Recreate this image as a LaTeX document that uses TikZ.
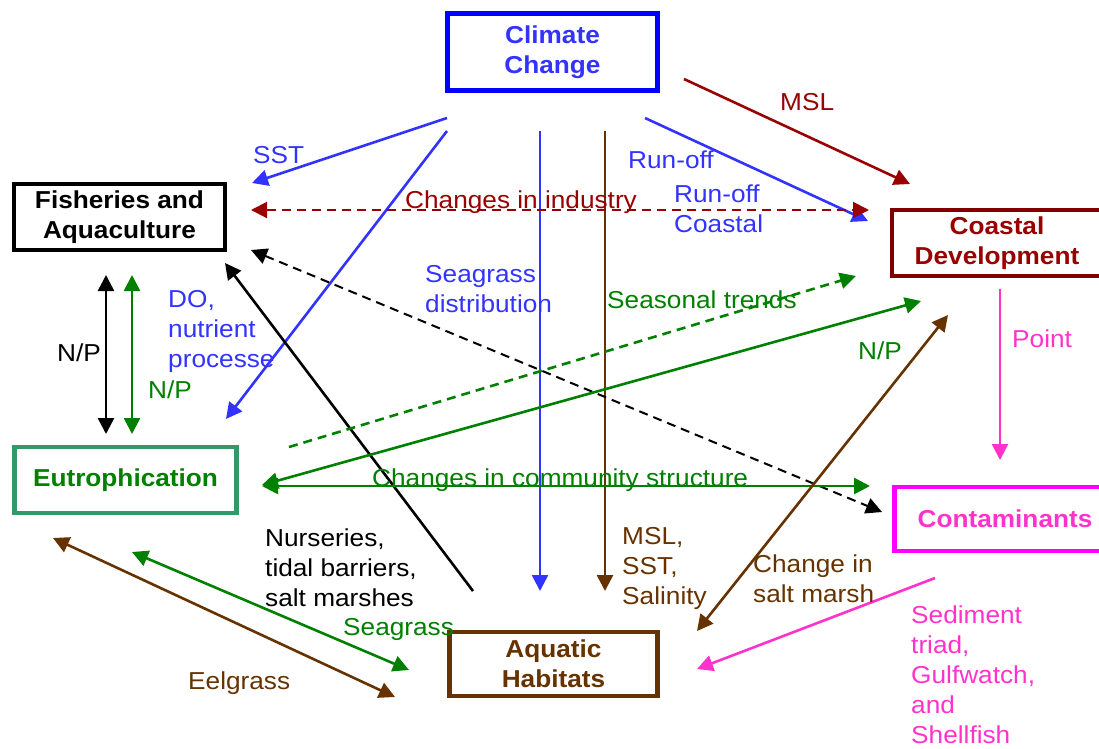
\documentclass[tikz,border=0pt]{standalone}
\usepackage{fontspec}
\setmainfont{Liberation Sans}
\usetikzlibrary{arrows.meta}
\definecolor{cblue}{RGB}{51,51,255}
\definecolor{bblue}{RGB}{0,0,255}
\definecolor{dred}{RGB}{153,0,0}
\definecolor{mred}{RGB}{128,0,0}
\definecolor{brn}{RGB}{102,51,0}
\definecolor{grn}{RGB}{0,128,0}
\definecolor{sgrn}{RGB}{51,153,102}
\definecolor{pnk}{RGB}{255,51,204}
\definecolor{mag}{RGB}{255,0,255}
\begin{document}
\begin{tikzpicture}[x=1pt,y=-1pt,
 box/.style={draw, line width=4.5pt, xscale=1.07, font=\fontsize{24.5}{30}\selectfont\bfseries, align=center, inner sep=0pt},
 lbl/.style={font=\fontsize{24.5}{30}\selectfont, xscale=1.07, align=left, inner sep=0pt, anchor=west},
 arr/.style={line width=2.6pt, -{Triangle[length=16pt,width=16pt]}},
 darr/.style={line width=2.6pt, {Triangle[length=16pt,width=16pt]}-{Triangle[length=16pt,width=16pt]}},
 dsh/.style={dash pattern=on 9pt off 6pt}]
\useasboundingbox (0,0) rectangle (1099,748);
% boxes (minimum widths divided by the x-scale 1.07)
\node[box, draw=bblue, text=cblue, line width=5pt, minimum width=196.3pt, minimum height=77pt] (cc) at (552.5,52) {Climate\\Change};
\node[box, draw=black, text=black, line width=4pt, minimum width=197.2pt, minimum height=66pt] (fa) at (119.5,217) {Fisheries and\\Aquaculture};
\node[box, draw=mred, text=dred, minimum width=196pt, minimum height=66pt] (cd) at (997,243) {Coastal\\Development};
\node[box, draw=sgrn, text=grn, minimum width=207.5pt, minimum height=66pt] (eu) at (125.5,480) {Eutrophication};
\node[box, draw=mag, text=pnk, minimum width=207pt, minimum height=64pt] (co) at (1005,519) {Contaminants};
\node[box, draw=brn, text=brn, minimum width=194.4pt, minimum height=64pt] (ah) at (553.5,664) {Aquatic\\Habitats};
% endpoints
\coordinate (sstA) at (447,118); \coordinate (sstB) at (252,183);
\coordinate (doA) at (447,131); \coordinate (doB) at (226,419);
\coordinate (sgA) at (540,131); \coordinate (sgB) at (540,591);
\coordinate (msA) at (605,131); \coordinate (msB) at (605,591);
\coordinate (roA) at (645,118); \coordinate (roB) at (868,221);
\coordinate (mslA) at (684,79); \coordinate (mslB) at (910,184);
\coordinate (ciA) at (251,210); \coordinate (ciB) at (869,210);
\coordinate (bdA) at (251,250); \coordinate (bdB) at (882,512);
\coordinate (nuA) at (473,591); \coordinate (nuB) at (225,263);
\coordinate (npA) at (106,275); \coordinate (npB) at (106,434);
\coordinate (ngA) at (132,275); \coordinate (ngB) at (132,434);
\coordinate (stA) at (289,447); \coordinate (stB) at (856,276);
\coordinate (nrA) at (262,485); \coordinate (nrB) at (921,301);
\coordinate (csA) at (262,486); \coordinate (csB) at (870,486);
\coordinate (smA) at (697,631); \coordinate (smB) at (948,315);
\coordinate (ptA) at (1000,289); \coordinate (ptB) at (1000,460);
\coordinate (sdA) at (935,578); \coordinate (sdB) at (697,669);
\coordinate (seA) at (132,552); \coordinate (seB) at (409,670);
\coordinate (elA) at (53,538); \coordinate (elB) at (395,697);
% connectors
\draw[arr, cblue] (sstA) -- (sstB);
\draw[arr, cblue] (doA) -- (doB);
\draw[arr, cblue] (sgA) -- (sgB);
\draw[arr, brn] (msA) -- (msB);
\draw[arr, cblue] (roA) -- (roB);
\draw[arr, dred] (mslA) -- (mslB);
\draw[darr, dred, dsh, line width=2pt] (ciA) -- (ciB);
\draw[darr, black, dsh, line width=2pt] (bdA) -- (bdB);
\draw[arr, black] (nuA) -- (nuB);
\draw[darr, black] (npA) -- (npB);
\draw[darr, grn] (ngA) -- (ngB);
\draw[arr, grn, dsh] (stA) -- (stB);
\draw[darr, grn] (nrA) -- (nrB);
\draw[darr, grn] (csA) -- (csB);
\draw[darr, brn] (smA) -- (smB);
\draw[arr, pnk] (ptA) -- (ptB);
\draw[arr, pnk] (sdA) -- (sdB);
\draw[darr, grn] (seA) -- (seB);
\draw[darr, brn] (elA) -- (elB);
% labels
\node[lbl, text=cblue] (l1) at (253,155) {SST};
\node[lbl, text=dred] (l2) at (405,202) {Changes in industry};
\node[lbl, text=dred] (l3) at (780,102) {MSL};
\node[lbl, text=cblue] (l4) at (628,160) {Run-off};
\node[lbl, text=cblue] (l5) at (674,209) {Run-off\\Coastal};
\node[lbl, text=cblue] (l6) at (425,289) {Seagrass\\distribution};
\node[lbl, text=grn] (l7) at (607,300) {Seasonal trends};
\node[lbl, text=cblue] (l8) at (168,331) {DO,\\nutrient\\processe};
\node[lbl, text=black] (l9) at (57,353) {N/P};
\node[lbl, text=grn] (l10) at (148,390) {N/P};
\node[lbl, text=grn] (l11) at (858,351) {N/P};
\node[lbl, text=pnk] (l12) at (1012,339) {Point};
\node[lbl, text=grn] (l13) at (372,480) {Changes in community structure};
\node[lbl, text=black] (l14) at (265,568) {Nurseries,\\tidal barriers,\\salt marshes};
\node[lbl, text=grn] (l15) at (343,629) {Seagrass};
\node[lbl, text=brn] (l16) at (188,683) {Eelgrass};
\node[lbl, text=brn] (l17) at (622,568) {MSL,\\SST,\\Salinity};
\node[lbl, text=brn] (l18) at (753,579) {Change in\\salt marsh};
\node[lbl, text=pnk] (l19) at (911,675) {Sediment\\triad,\\Gulfwatch,\\and\\Shellfish};
\end{tikzpicture}
\end{document}
